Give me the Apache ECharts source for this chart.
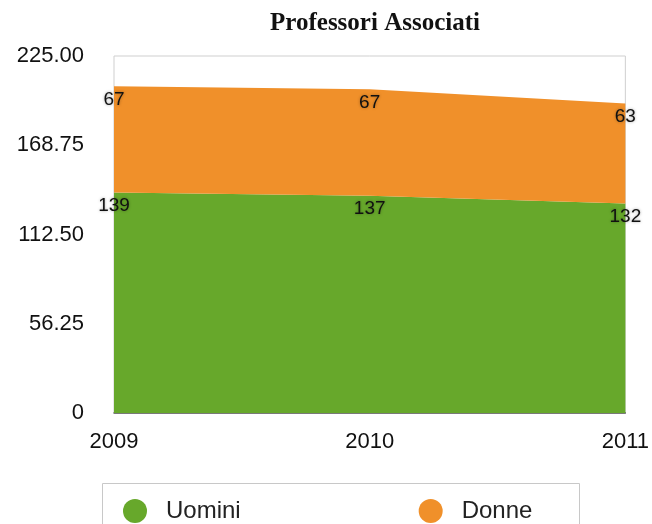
<!DOCTYPE html>
<html>
<head>
<meta charset="utf-8">
<script src="https://cdn.jsdelivr.net/npm/echarts@6/dist/echarts.min.js"></script>
<style>
  html, body { margin: 0; padding: 0; background: #fff; }
  #chart { width: 652px; height: 524px; }
</style>
</head>
<body>
<div id="chart"></div>
<script>
// dati
var anni = ['2009', '2010', '2011']
var uomini = [139, 137, 132]
var donne = [67, 67, 63]
var yTicks = { min: 0, max: 225, step: 56.25 }

var chart = echarts.init(document.getElementById('chart'))

var labelStyle = {
  show: true,
  position: 'bottom',
  distance: 4,
  color: '#111',
  fontFamily: 'Liberation Sans',
  fontSize: 19,
  textShadowColor: 'rgba(0,0,0,0.35)',
  textShadowBlur: 3
}

var option = {
  animation: false,
  title: {
    text: 'Professori Associati',
    left: 370,
    textAlign: 'center',
    top: 6,
    textStyle: { fontFamily: 'Liberation Serif', fontWeight: 'bold', fontSize: 25, color: '#111' }
  },
  graphic: [{
    type: 'rect',
    left: 102,
    top: 483,
    shape: { width: 477, height: 60 },
    style: { fill: '#fff', stroke: '#c8c8c8', lineWidth: 1 }
  }],
  legend: {
    data: ['Uomini', 'Donne'],
    left: 118,
    top: 494,
    icon: 'circle',
    itemWidth: 24,
    itemHeight: 24,
    itemGap: 178,
    textStyle: { fontFamily: 'Liberation Sans', fontSize: 24, color: '#222', padding: [0, 0, 0, 14] }
  },
  grid: {
    left: 114,
    right: 25,
    top: 56,
    bottom: 111,
    show: true,
    borderColor: '#cfcfcf',
    borderWidth: 1
  },
  xAxis: {
    type: 'category',
    data: anni,
    boundaryGap: false,
    axisLine: { lineStyle: { color: '#555', width: 1.5 } },
    axisTick: { show: false },
    axisLabel: { fontFamily: 'Liberation Sans', fontSize: 22, color: '#111', margin: 18 }
  },
  yAxis: {
    type: 'value',
    min: yTicks.min,
    max: yTicks.max,
    interval: yTicks.step,
    splitLine: { show: false },
    axisLine: { show: false },
    axisTick: { show: false },
    axisLabel: {
      fontFamily: 'Liberation Sans',
      fontSize: 22,
      color: '#111',
      margin: 30,
      formatter: function (v) { return v === 0 ? '0' : v.toFixed(2) }
    }
  },
  series: [
    {
      name: 'Uomini',
      type: 'line',
      stack: 'tot',
      data: uomini,
      symbol: 'circle',
      symbolSize: 0,
      lineStyle: { width: 0 },
      itemStyle: { color: '#67a82b' },
      areaStyle: { color: '#67a82b', opacity: 1 },
      label: labelStyle
    },
    {
      name: 'Donne',
      type: 'line',
      stack: 'tot',
      data: donne,
      symbol: 'circle',
      symbolSize: 0,
      lineStyle: { width: 0 },
      itemStyle: { color: '#f0902a' },
      areaStyle: { color: '#f0902a', opacity: 1 },
      label: labelStyle
    }
  ]
}

chart.setOption(option)
</script>
</body>
</html>
